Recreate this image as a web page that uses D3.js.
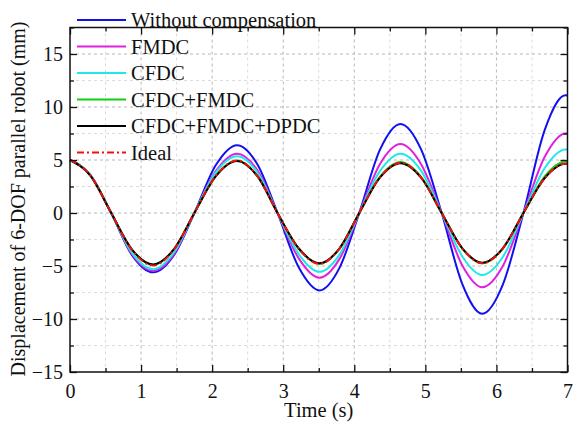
<!DOCTYPE html>
<html>
<head>
<meta charset="utf-8">
<script src="https://cdn.jsdelivr.net/npm/d3@7"></script>
<style>
  body { margin: 0; background: #fff; }
  svg text { font-family: "Liberation Serif", "Times New Roman", Times, serif; fill: #111; }
</style>
</head>
<body>
<svg id="chart" width="573" height="424"></svg>
<script>
// sample times (s) - extrema, zero crossings and the points between them
const time = [0, 0.29, 0.58, 0.87, 1.17, 1.46, 1.75, 2.05, 2.35, 2.64, 2.92, 3.22, 3.51,
              3.79, 4.07, 4.36, 4.65, 4.94, 5.23, 5.52, 5.80, 6.09, 6.38, 6.68, 6.97, 7.0];

const withoutComp = [5, 3.55, 0, -3.95, -5.6, -4.0, 0, 4.5, 6.4, 4.55, 0, -5.15, -7.3,
                     -5.2, 0, 5.95, 8.4, 6.0, 0, -6.7, -9.5, -6.75, 0, 7.85, 11.1, 11.08];
const fmdc = [5, 3.55, 0, -3.85, -5.45, -3.9, 0, 3.95, 5.6, 4.0, 0, -4.3, -6.1,
              -4.35, 0, 4.6, 6.5, 4.6, 0, -4.95, -7.0, -5.0, 0, 5.3, 7.5, 7.49];
const cfdc = [5, 3.55, 0, -3.75, -5.3, -3.75, 0, 3.8, 5.35, 3.8, 0, -3.9, -5.55,
              -3.95, 0, 3.95, 5.6, 4.0, 0, -4.1, -5.85, -4.15, 0, 4.25, 6.0, 5.99];
const cfdcFmdc = [5, 3.5, 0, -3.45, -4.9, -3.45, 0, 3.5, 4.95, 3.45, 0, -3.4, -4.8,
                  -3.4, 0, 3.4, 4.8, 3.4, 0, -3.35, -4.75, -3.35, 0, 3.45, 4.85, 4.84];
const cfdcFmdcDpdc = [5, 3.5, 0, -3.43, -4.85, -3.43, 0, 3.45, 4.9, 3.45, 0, -3.35, -4.75,
                      -3.35, 0, 3.33, 4.7, 3.33, 0, -3.33, -4.7, -3.33, 0, 3.3, 4.65, 4.64];
const ideal = [5, 3.52, 0, -3.47, -4.95, -3.47, 0, 3.5, 4.95, 3.45, 0, -3.38, -4.8,
               -3.37, 0, 3.35, 4.75, 3.35, 0, -3.35, -4.75, -3.35, 0, 3.3, 4.65, 4.64];

const seriesNames = ["Without compensation", "FMDC", "CFDC", "CFDC+FMDC", "CFDC+FMDC+DPDC", "Ideal"];
const seriesValues = [withoutComp, fmdc, cfdc, cfdcFmdc, cfdcFmdcDpdc, ideal];
const seriesColors = ["#1010f0", "#e020e0", "#20e8e8", "#10d010", "#000000", "#f01010"];
const seriesDash = [null, null, null, null, null, "7,3,2,3"];

const xTicks = [0, 1, 2, 3, 4, 5, 6, 7];
const yTicks = [-15, -10, -5, 0, 5, 10, 15];

const serif = "'Liberation Serif', 'Times New Roman', Times, serif";
const svg = d3.select("#chart");
const L = 70, R = 567.5, T = 27.5, B = 372;

const x = d3.scaleLinear().domain([0, 7]).range([L, R]);
const y = d3.scaleLinear().domain([-15, 17.5]).range([B, T]);

const xMinor = d3.range(0, 7.01, 0.5);
const yMinor = d3.range(-15, 17.51, 2.5);

// grid
const grid = svg.append("g");
grid.selectAll(".gx").data(xMinor.filter(d => d > 0 && d < 7)).join("line")
  .attr("x1", d => x(d)).attr("x2", d => x(d)).attr("y1", T).attr("y2", B)
  .attr("stroke", d => Number.isInteger(d) ? "#b8b8b8" : "#dcdcdc")
  .attr("stroke-dasharray", "3,3").attr("stroke-width", 1);
grid.selectAll(".gy").data(yMinor.filter(d => d > -15 && d < 17.5)).join("line")
  .attr("y1", d => y(d)).attr("y2", d => y(d)).attr("x1", L).attr("x2", R)
  .attr("stroke", d => d % 5 === 0 ? "#b8b8b8" : "#dcdcdc")
  .attr("stroke-dasharray", "3,3").attr("stroke-width", 1);

// curves
const line = d3.line().x((d, i) => x(time[i])).y(d => y(d)).curve(d3.curveMonotoneX);
svg.append("g").selectAll("path").data(seriesValues).join("path")
  .attr("d", d => line(d))
  .attr("fill", "none")
  .attr("stroke", (d, i) => seriesColors[i])
  .attr("stroke-width", 2)
  .attr("stroke-dasharray", (d, i) => seriesDash[i]);

// axes: ticks inside on all four sides
function tickStyle(g) {
  g.attr("font-family", serif);
  g.select(".domain").remove();
  g.selectAll("line").attr("stroke", "#111").attr("stroke-width", 1.3);
  g.selectAll("text").attr("font-size", "20px").style("font-family", serif);
}
svg.append("g").attr("transform", `translate(0,${B})`)
  .call(d3.axisBottom(x).tickValues(xTicks).tickSize(-7).tickPadding(12).tickFormat(d3.format("d")))
  .call(tickStyle);
svg.append("g").attr("transform", `translate(0,${B})`)
  .call(d3.axisBottom(x).tickValues(xMinor.filter(d => !Number.isInteger(d))).tickSize(-4).tickFormat(""))
  .call(tickStyle);
svg.append("g").attr("transform", `translate(0,${T})`)
  .call(d3.axisTop(x).tickValues(xTicks).tickSize(-7).tickFormat(""))
  .call(tickStyle);
svg.append("g").attr("transform", `translate(0,${T})`)
  .call(d3.axisTop(x).tickValues(xMinor.filter(d => !Number.isInteger(d))).tickSize(-4).tickFormat(""))
  .call(tickStyle);

svg.append("g").attr("transform", `translate(${L},0)`)
  .call(d3.axisLeft(y).tickValues(yTicks).tickSize(-7).tickPadding(7).tickFormat(d3.format("d")))
  .call(tickStyle);
svg.append("g").attr("transform", `translate(${L},0)`)
  .call(d3.axisLeft(y).tickValues(yMinor.filter(d => d % 5 !== 0)).tickSize(-4).tickFormat(""))
  .call(tickStyle);
svg.append("g").attr("transform", `translate(${R},0)`)
  .call(d3.axisRight(y).tickValues(yTicks).tickSize(-7).tickFormat(""))
  .call(tickStyle);
svg.append("g").attr("transform", `translate(${R},0)`)
  .call(d3.axisRight(y).tickValues(yMinor.filter(d => d % 5 !== 0)).tickSize(-4).tickFormat(""))
  .call(tickStyle);

// frame
svg.append("rect").attr("x", L).attr("y", T).attr("width", R - L).attr("height", B - T)
  .attr("fill", "none").attr("stroke", "#111").attr("stroke-width", 1.5);

// axis titles
svg.append("text").attr("x", (L + R) / 2).attr("y", 417).attr("text-anchor", "middle")
  .attr("font-size", "20.5px").text("Time (s)");
svg.append("text").attr("transform", "translate(25,199) rotate(-90)").attr("text-anchor", "middle")
  .attr("font-size", "20px").text("Displacement of 6-DOF parallel robot (mm)");

// legend
const leg = svg.append("g");
const rowY = d3.scaleLinear().domain([0, 5]).range([20, 152.5]);
seriesNames.forEach((name, i) => {
  const yy = rowY(i);
  leg.append("line").attr("x1", 77).attr("x2", 126).attr("y1", yy).attr("y2", yy)
    .attr("stroke", seriesColors[i]).attr("stroke-width", 2)
    .attr("stroke-dasharray", seriesDash[i]);
  leg.append("text").attr("x", 131).attr("y", yy + 7).attr("font-size", "20.5px").text(name);
});
</script>
</body>
</html>
